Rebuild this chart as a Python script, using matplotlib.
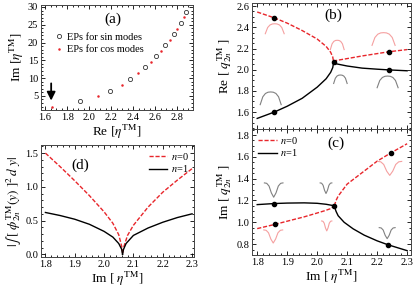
import numpy as np
import matplotlib
matplotlib.use("Agg")
import matplotlib.pyplot as plt
from matplotlib.ticker import MultipleLocator

plt.rcParams['font.family'] = ['Liberation Serif', 'DejaVu Serif']
plt.rcParams['mathtext.fontset'] = 'stix'

# (a) exceptional points
sin_re = [1.92, 2.19, 2.37, 2.505, 2.61, 2.69, 2.77, 2.83, 2.88]
sin_im = [3.6, 6.5, 9.8, 13.1, 16.1, 19.3, 22.4, 25.5, 28.6]
cos_re = [1.66, 2.08, 2.30, 2.44, 2.56, 2.65, 2.73, 2.80, 2.86]
cos_im = [1.9, 5.0, 8.2, 11.5, 14.5, 17.6, 20.7, 23.9, 27.1]
arrow_from = (1.655, 9.3)
arrow_to = (1.655, 2.9)

# (b) Re q
b_red_l_x = [1.8, 1.857, 1.9, 1.95, 2.0, 2.03, 2.045, 2.052, 2.055]
b_red_l_y = [2.545, 2.49, 2.44, 2.37, 2.29, 2.22, 2.165, 2.12, 2.07]
b_blk_l_x = [1.8, 1.857, 1.9, 1.95, 2.0, 2.03, 2.045, 2.052, 2.055]
b_blk_l_y = [1.54, 1.60, 1.655, 1.73, 1.835, 1.915, 1.975, 2.02, 2.07]
b_red_r_x = [2.055, 2.058, 2.065, 2.1, 2.15, 2.2, 2.24, 2.3]
b_red_r_y = [2.07, 2.08, 2.088, 2.105, 2.13, 2.152, 2.17, 2.19]
b_blk_r_x = [2.055, 2.058, 2.065, 2.1, 2.15, 2.2, 2.24, 2.3]
b_blk_r_y = [2.07, 2.062, 2.055, 2.035, 2.015, 2.005, 1.998, 1.99]
b_dot_x = [1.857, 1.857, 2.055, 2.24, 2.24]
b_dot_y = [2.49, 1.60, 2.07, 2.17, 2.00]

# (c) Im q
c_red_l_x = [1.8, 1.861, 1.9, 1.957, 2.0, 2.024, 2.045, 2.057]
c_red_l_y = [0.942, 0.982, 1.01, 1.05, 1.085, 1.105, 1.125, 1.15]
c_red_r_x = [2.057, 2.063, 2.07, 2.1, 2.15, 2.2, 2.245, 2.3]
c_red_r_y = [1.15, 1.2, 1.24, 1.35, 1.455, 1.56, 1.635, 1.72]
c_blk_l_x = [1.8, 1.858, 1.9, 1.957, 2.0, 2.03, 2.05, 2.057]
c_blk_l_y = [1.162, 1.172, 1.176, 1.178, 1.174, 1.165, 1.155, 1.15]
c_blk_r_x = [2.057, 2.063, 2.07, 2.09, 2.12, 2.157, 2.2, 2.235, 2.3]
c_blk_r_y = [1.15, 1.10, 1.06, 1.0, 0.94, 0.882, 0.83, 0.795, 0.74]
c_dot_x = [1.857, 1.86, 2.057, 2.245, 2.235]
c_dot_y = [1.172, 0.982, 1.15, 1.635, 0.795]

# (d) |int phi^2 dy|
d_red_l_x = [1.8, 1.85, 1.9, 1.95, 2.0, 2.03, 2.05, 2.06, 2.063]
d_red_l_y = [1.50, 1.30, 1.09, 0.87, 0.63, 0.46, 0.29, 0.12, 0.02]
d_red_r_x = [2.063, 2.068, 2.08, 2.1, 2.15, 2.2, 2.25, 2.3]
d_red_r_y = [0.02, 0.12, 0.28, 0.43, 0.70, 0.92, 1.10, 1.27]
d_blk_l_x = [1.8, 1.85, 1.9, 1.95, 2.0, 2.03, 2.05, 2.06, 2.063]
d_blk_l_y = [0.62, 0.575, 0.52, 0.445, 0.34, 0.255, 0.16, 0.075, 0.0]
d_blk_r_x = [2.063, 2.066, 2.075, 2.1, 2.15, 2.2, 2.25, 2.3]
d_blk_r_y = [0.0, 0.07, 0.16, 0.28, 0.39, 0.475, 0.545, 0.6]

# small mode-profile sketches: (x0, x1, y_bottom, y_top, colour)
prof_t = [0, 0.125, 0.25, 0.375, 0.5, 0.625, 0.75, 0.875, 1]
arch_v = [0, 0.62, 0.88, 0.98, 1.0, 0.98, 0.88, 0.62, 0]
trough_v = [1, 0.97, 0.78, 0.3, 0, 0.3, 0.78, 0.97, 1]
b_sketch = [(1.827, 1.89, 2.34, 2.434, '#f5a0a0'),
            (2.044, 2.09, 2.19, 2.278, '#f5a0a0'),
            (2.183, 2.26, 2.23, 2.35, '#f5a0a0'),
            (1.81, 1.88, 1.67, 1.79, '#808080'),
            (2.055, 2.1, 1.87, 1.95, '#808080'),
            (2.2, 2.27, 1.83, 1.94, '#808080')]
c_sketch = [(1.824, 1.886, 1.23, 1.361, '#808080'),
            (2.01, 2.049, 1.264, 1.361, '#808080'),
            (2.207, 2.26, 0.85, 0.951, '#808080'),
            (1.822, 1.885, 0.81, 0.93, '#f5a0a0'),
            (2.015, 2.049, 0.921, 1.012, '#f5a0a0'),
            (2.202, 2.282, 1.43, 1.558, '#f5a0a0')]

RED = '#e8262b'
DASH = (0, (3, 1.3))
fs_tick = 7.5
fs_lab = 9.5


def style(ax, xmaj, xmin, ymaj, ymin):
    ax.xaxis.set_major_locator(MultipleLocator(xmaj))
    ax.xaxis.set_minor_locator(MultipleLocator(xmin))
    ax.yaxis.set_major_locator(MultipleLocator(ymaj))
    ax.yaxis.set_minor_locator(MultipleLocator(ymin))
    ax.tick_params(which='both', direction='in', top=True, right=True,
                   labelsize=fs_tick, pad=2, width=0.6)
    ax.tick_params(which='major', length=3)
    ax.tick_params(which='minor', length=1.6)
    for s in ax.spines.values():
        s.set_linewidth(0.7)
        s.set_color('#444444')


def sketch(ax, items, shape):
    t = np.array(prof_t)
    v = np.array(shape)
    for x0, x1, y0, y1, col in items:
        ax.plot(x0 + t * (x1 - x0), y0 + v * (y1 - y0), color=col, lw=0.8)


fig = plt.figure(figsize=(4.16, 2.89), dpi=100)
ax_a = fig.add_axes([0.0986, 0.619, 0.365, 0.363])
ax_d = fig.add_axes([0.0986, 0.1107, 0.368, 0.3875])
ax_b = fig.add_axes([0.606, 0.5536, 0.382, 0.436])
ax_c = fig.add_axes([0.606, 0.1176, 0.382, 0.436])

# (a)
ax_a.plot(sin_re, sin_im, 'o', mfc='none', mec='#333333', ms=3.0, mew=0.6,
          label='EPs for sin modes')
ax_a.plot(cos_re, cos_im, 'o', color=RED, ms=1.8, mew=0, label='EPs for cos modes')
ax_a.annotate('', xy=arrow_to, xytext=arrow_from,
              arrowprops=dict(arrowstyle='-|>,head_width=0.25,head_length=0.5',
                              color='k', lw=1.3))
ax_a.set_xlim(1.563, 2.94)
ax_a.set_ylim(1.0, 30.5)
style(ax_a, 0.2, 0.05, 5, 1)
ax_a.set_xlabel(r'Re $[\eta^{\rm TM}]$', fontsize=fs_lab, labelpad=1)
ax_a.set_ylabel(r'Im $[\eta^{\rm TM}]$', fontsize=fs_lab, labelpad=1)
ax_a.text(0.47, 0.87, '(a)', transform=ax_a.transAxes, fontsize=11,
          ha='center', va='center')
ax_a.legend(loc='upper left', bbox_to_anchor=(0.05, 0.78), frameon=False,
            fontsize=7.5, handletextpad=0.2, borderaxespad=0, labelspacing=0.3,
            handlelength=1.2)

# (b)
ax_b.plot(b_red_l_x, b_red_l_y, color=RED, ls=DASH, lw=1)
ax_b.plot(b_red_r_x, b_red_r_y, color=RED, ls=DASH, lw=1)
ax_b.plot(b_blk_l_x, b_blk_l_y, color='k', lw=1)
ax_b.plot(b_blk_r_x, b_blk_r_y, color='k', lw=1)
ax_b.plot(b_dot_x, b_dot_y, 'o', color='k', ms=3)
sketch(ax_b, b_sketch, arch_v)
ax_b.set_xlim(1.783, 2.313)
ax_b.set_ylim(1.44, 2.63)
style(ax_b, 0.1, 0.02, 0.2, 0.05)
ax_b.tick_params(labelbottom=False)
ax_b.set_ylabel(r'Re $[\ q_{2n}^{\rm TM}\ ]$', fontsize=fs_lab, labelpad=2)
ax_b.text(0.51, 0.9, '(b)', transform=ax_b.transAxes, fontsize=11,
          ha='center', va='center')

# (c)
ax_c.plot(c_red_l_x, c_red_l_y, color=RED, ls=DASH, lw=1, label=r'$n$=0')
ax_c.plot(c_red_r_x, c_red_r_y, color=RED, ls=DASH, lw=1)
ax_c.plot(c_blk_l_x, c_blk_l_y, color='k', lw=1, label=r'$n$=1')
ax_c.plot(c_blk_r_x, c_blk_r_y, color='k', lw=1)
ax_c.plot(c_dot_x, c_dot_y, 'o', color='k', ms=3)
sketch(ax_c, c_sketch, trough_v)
ax_c.set_xlim(1.783, 2.313)
ax_c.set_ylim(0.70, 1.855)
style(ax_c, 0.1, 0.02, 0.2, 0.05)
ax_c.set_xlabel(r'Im $[\ \eta^{\rm TM}]$', fontsize=fs_lab, labelpad=1)
ax_c.set_ylabel(r'Im $[\ q_{2n}^{\rm TM}\ ]$', fontsize=fs_lab, labelpad=2)
ax_c.text(0.53, 0.89, '(c)', transform=ax_c.transAxes, fontsize=11,
          ha='center', va='center')
ax_c.legend(loc='upper left', frameon=False, fontsize=7.5, handlelength=1.8,
            handletextpad=0.3, borderaxespad=0.15, labelspacing=0.15)

# (d)
ax_d.plot(d_red_l_x, d_red_l_y, color=RED, ls=DASH, lw=1, label=r'$n$=0')
ax_d.plot(d_red_r_x, d_red_r_y, color=RED, ls=DASH, lw=1)
ax_d.plot(d_blk_l_x, d_blk_l_y, color='k', lw=1, label=r'$n$=1')
ax_d.plot(d_blk_r_x, d_blk_r_y, color='k', lw=1)
ax_d.set_xlim(1.785, 2.307)
ax_d.set_ylim(-0.04, 1.62)
style(ax_d, 0.1, 0.02, 0.5, 0.1)
ax_d.set_xlabel(r'Im $[\ \eta^{\rm TM}]$', fontsize=fs_lab, labelpad=1)
ax_d.set_ylabel(r'$|\int\,[\ \phi_{2n}^{\rm TM}(y)\ ]^2\,d\ y|$', fontsize=fs_lab,
                labelpad=1)
ax_d.text(0.255, 0.82, '(d)', transform=ax_d.transAxes, fontsize=11,
          ha='center', va='center')
ax_d.legend(loc='upper right', frameon=False, fontsize=7.5, handlelength=1.8,
            handletextpad=0.3, borderaxespad=0.15, labelspacing=0.15)

fig.savefig('out.png', dpi=100)
